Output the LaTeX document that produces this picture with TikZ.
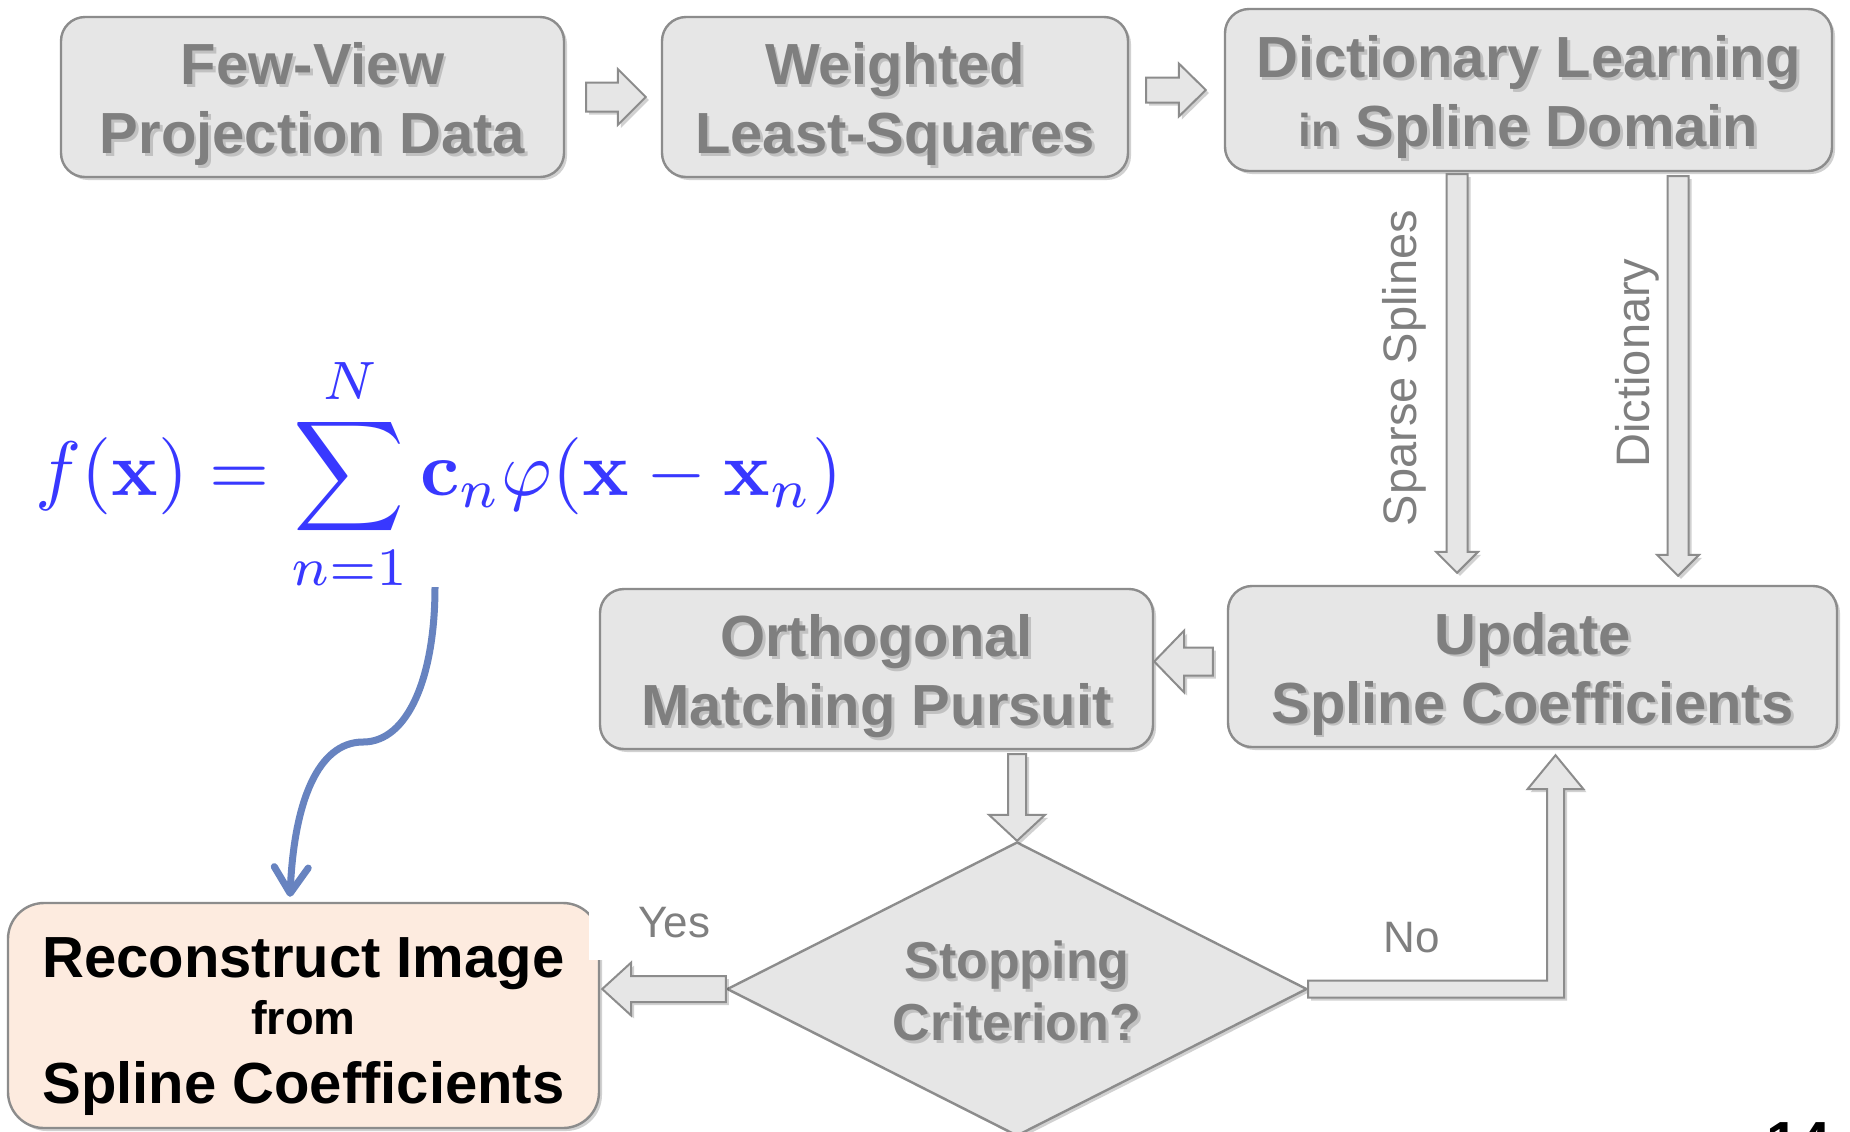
\documentclass[tikz,border=0pt]{standalone}
\usepackage[no-math]{fontspec}
\newfontfamily\af{Liberation Sans}
\usetikzlibrary{shapes.geometric,shadows,calc,arrows.meta}
\definecolor{boxfill}{HTML}{E6E6E6}
\definecolor{boxline}{HTML}{8C8C8C}
\definecolor{txtgray}{HTML}{7F7F7F}
\definecolor{peach}{HTML}{FDEBDF}
\definecolor{fblue}{HTML}{3838FF}
\definecolor{cblue}{HTML}{6783C0}
\tikzset{
  shd/.style={drop shadow={shadow xshift=1.5pt,shadow yshift=-1.5pt,opacity=0.18,fill=black}},
  gbox/.style={draw=boxline, line width=1.2pt, fill=boxfill, rounded corners=12pt, inner sep=0pt, shd},
  gtxt/.style={text=txtgray, font=\af\bfseries\fontsize{29}{34.5}\selectfont, align=center, inner sep=0pt},
  gsh/.style={gtxt, text=black, text opacity=0.16},
  barrow/.style={draw=boxline, line width=1pt, fill=boxfill, line join=miter, shd},
  lbl/.style={text=txtgray, font=\af\fontsize{23.5}{28}\selectfont, inner sep=0pt},
  rtxt/.style={text=black, font=\af\bfseries\fontsize{29}{34}\selectfont, inner sep=0pt},
  carrow/.style={draw=cblue, line width=3.5pt, -{Straight Barb[length=13pt,width=17pt,line cap=round,line join=round]}}
}
% gray rounded box with shadowed text
\newcommand\gbox[5]{%
  \node[gbox, minimum width=#3, minimum height=#4] (#1) at (#2) {};
  \node[gsh] at ([shift={(1.4pt,-4.9pt)}]#1.center) {#5};
  \node[gtxt] at ([yshift=-3.5pt]#1.center) {#5};}
% horizontal block arrow: start, end, shaft half, head half, signed head length (px)
\newcommand\harr[5]{%
  \draw[barrow] let \p1=(#1), \p2=(#2) in
  (\x1,{\y1+#3*0.5pt}) -- ({\x2-(#5)*0.5pt},{\y1+#3*0.5pt}) -- ({\x2-(#5)*0.5pt},{\y1+#4*0.5pt})
  -- (\x2,\y1) -- ({\x2-(#5)*0.5pt},{\y1-#4*0.5pt}) -- ({\x2-(#5)*0.5pt},{\y1-#3*0.5pt})
  -- (\x1,{\y1-#3*0.5pt}) -- cycle;}
% vertical block arrow (head length positive = downward)
\newcommand\varr[5]{%
  \draw[barrow] let \p1=(#1), \p2=(#2) in
  ({\x1-#3*0.5pt},\y1) -- ({\x1-#3*0.5pt},{\y2+(#5)*0.5pt}) -- ({\x1-#4*0.5pt},{\y2+(#5)*0.5pt})
  -- (\x1,\y2) -- ({\x1+#4*0.5pt},{\y2+(#5)*0.5pt}) -- ({\x1+#3*0.5pt},{\y2+(#5)*0.5pt})
  -- ({\x1+#3*0.5pt},\y1) -- cycle;}
\begin{document}
\begin{tikzpicture}[x=0.5pt,y=-0.5pt]
\path[use as bounding box, fill=white] (0,0) rectangle (1850,1131);

% top row
\gbox{b1}{312.5,97}{251.5pt}{80pt}{Few-View\\Projection Data}
\gbox{b2}{895,97}{233pt}{80pt}{Weighted\\Least-Squares}
\gbox{b3}{1528.5,90}{303.5pt}{81pt}{Dictionary Learning\\{\fontsize{23}{28}\selectfont in} Spline Domain}
% middle row
\gbox{b4}{876.5,669}{276.5pt}{80pt}{Orthogonal\\Matching Pursuit}
\gbox{b5}{1532.5,666.5}{304.5pt}{80.5pt}{Update\\Spline Coefficients}

% decision diamond
\node[diamond, draw=boxline, line width=1.2pt, fill=boxfill, minimum width=290pt, minimum height=147pt, inner sep=0pt, shd] (d) at (1017,989) {};
\node[gsh, font=\af\bfseries\fontsize{26}{31}\selectfont] at ([shift={(1.4pt,-2.4pt)}]d.center) {Stopping\\Criterion?};
\node[gtxt, font=\af\bfseries\fontsize{26}{31}\selectfont] at ([yshift=-1pt]d.center) {Stopping\\Criterion?};

% result box
\node[draw=boxline, line width=1.2pt, fill=peach, rounded corners=18pt, minimum width=295.5pt, minimum height=112.5pt, inner sep=0pt, shd] (r) at (303.5,1015.5) {};
\node[rtxt, anchor=base] at ($(r.center)+(0,-38.5)$) {Reconstruct Image};
\node[rtxt, font=\af\bfseries\fontsize{23.5}{28}\selectfont, anchor=base] at ($(r.center)+(0,18.5)$) {from};
\node[rtxt, anchor=base] at ($(r.center)+(0,88)$) {Spline Coefficients};

% formula
\node[text=fblue, scale=3.86, inner sep=0pt] (f) at (439,474) {$\displaystyle f(\mathbf{x}) = \sum_{n=1}^{N} \mathbf{c}_n\varphi(\mathbf{x}-\mathbf{x}_n)$};

% block arrows
\harr{$(b1.east)+(21,0)$}{$(b2.west)+(-15,0)$}{14.5}{28}{28}
\harr{$(b2.east)+(17,-7)$}{$(b3.west)+(-18,0)$}{12.5}{26.5}{27}
\varr{$(b3.south)+(-71.5,2)$}{$(b5.north)+(0,-12)$}{10.5}{21}{21}
\varr{$(b3.south)+(149.5,4)$}{$(b5.north)+(0,-9)$}{10.5}{21}{21}
\harr{$(b5.west)+(-14,-5)$}{b4.east}{14}{31}{-30}
\varr{$(b4.south)+(140.5,4)$}{d.north}{9}{28}{26}

% Yes label (its white box covers the result box corner)
\node[lbl, fill=white, font=\af\fontsize{22}{26}\selectfont, minimum width=85.5pt, minimum height=37pt] (yes) at (674.5,923) {Yes};
\harr{d.west}{$(r.east)+(2,0)$}{13}{26.5}{-29}

% No branch: elbow block arrow
\coordinate (notip) at ($(b5.south)+(23,7)$);
\draw[barrow] let \p1=(d.east), \p2=(notip) in
  (\x1,{\y1+4.25pt}) -- ({\x2-4.25pt},{\y1+4.25pt}) -- ({\x2-4.25pt},{\y2-17pt}) -- ({\x2-14pt},{\y2-17pt})
  -- (\x2,\y2) -- ({\x2+14pt},{\y2-17pt}) -- ({\x2+4.25pt},{\y2-17pt}) -- ({\x2+4.25pt},{\y1-4.25pt})
  -- (\x1,{\y1-4.25pt}) -- cycle;
\node[lbl, font=\af\fontsize{22}{26}\selectfont] (no) at (1412,938) {No};

% arrow labels
\node[lbl, rotate=90] (ss) at (1404,368) {Sparse Splines};
\node[lbl, rotate=90] (dl) at (1637,363) {Dictionary};

% curved arrow from formula to result box
\coordinate (cs) at (435,587);
\coordinate (cm) at (363,742);
\draw[carrow] (cs) .. controls +(0,90) and +(45,0) .. (cm) .. controls +(-45,0) and +(4,-95) .. ($(r.north)+(-13.5,-5)$);

% slide number (cut by page edge)
\node[font=\af\bfseries\fontsize{29}{34}\selectfont, anchor=base west, inner sep=0pt] (pg) at (1766,1162) {14};
\end{tikzpicture}
\end{document}
